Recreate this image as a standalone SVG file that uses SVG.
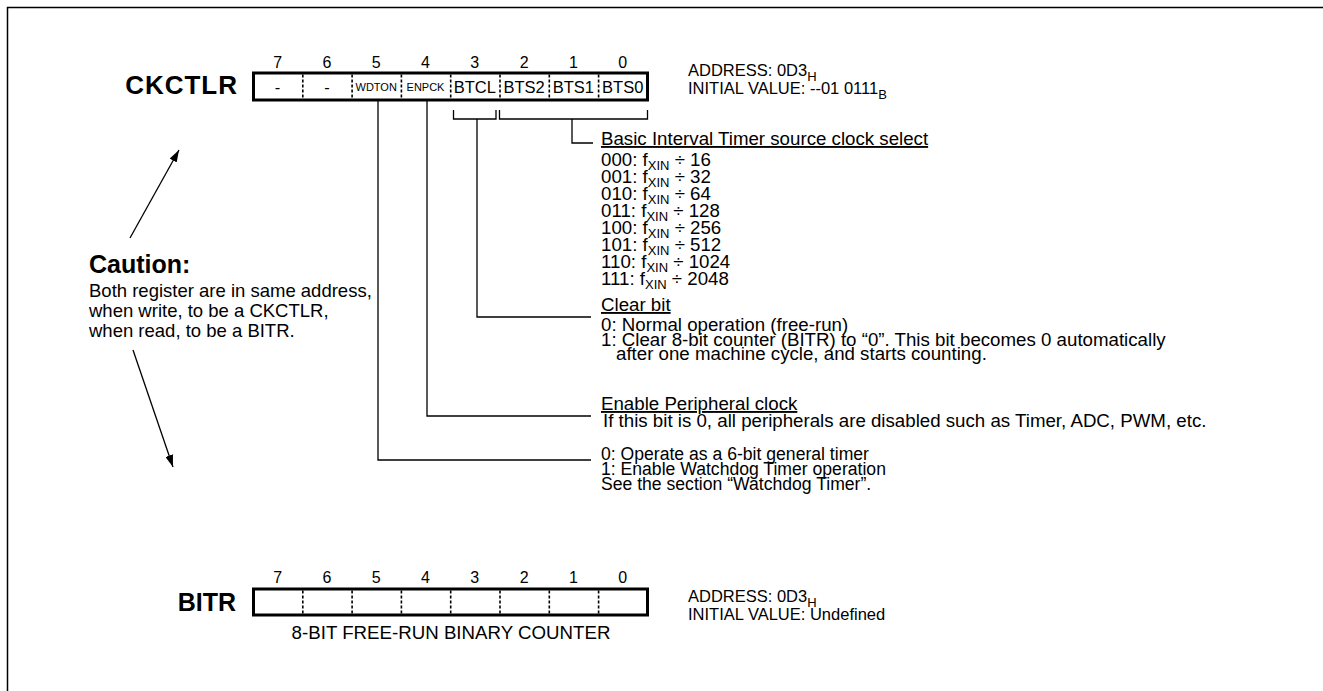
<svg xmlns="http://www.w3.org/2000/svg" width="1323" height="691" viewBox="0 0 1323 691">
<style>
text{font-family:"Liberation Sans",Arial,sans-serif;fill:#000}
.t{font-size:18.7px}
.w{font-size:17.6px}
.k{font-size:18.5px}
.a{font-size:16.5px}
.b{font-size:25px;font-weight:bold}
.n{font-size:16px;text-anchor:middle}
.c{font-size:16.5px;text-anchor:middle}
.s{font-size:11px;text-anchor:middle}
.sub{font-size:13px}
.u{text-decoration:underline}
.box{fill:#fff;stroke:#000;stroke-width:3}
.div{stroke:#000;stroke-width:1.6;stroke-dasharray:3 2;fill:none}
.ln{stroke:#000;stroke-width:1.3;fill:none}
</style>
<defs>
<marker id="ah" viewBox="0 0 12 8" refX="12" refY="4" markerWidth="12" markerHeight="8" markerUnits="userSpaceOnUse" orient="auto">
<path d="M0,0 L12,4 L0,8 Z" fill="#000"/>
</marker>
</defs>
<rect width="1323" height="691" fill="#fff"/>
<path d="M7.5,691 V7.5 H1323" fill="none" stroke="#000" stroke-width="1.5"/>

<g id="ckctlr">
<text class="b" x="238" y="94" text-anchor="end" style="font-size:26px;letter-spacing:1px">CKCTLR</text>
<g>
<text class="n" x="277.6" y="68">7</text><text class="n" x="326.9" y="68">6</text><text class="n" x="376.2" y="68">5</text><text class="n" x="425.5" y="68">4</text><text class="n" x="474.8" y="68">3</text><text class="n" x="524.1" y="68">2</text><text class="n" x="573.4" y="68">1</text><text class="n" x="622.7" y="68">0</text>
</g>
<rect class="box" x="253.5" y="73" width="394" height="27"/>
<path class="div" d="M302.8,74.5V98.5M352.1,74.5V98.5M401.4,74.5V98.5M450.7,74.5V98.5M500,74.5V98.5M549.3,74.5V98.5M598.6,74.5V98.5"/>
<text class="c" x="277.6" y="93">-</text>
<text class="c" x="326.9" y="93">-</text>
<text class="s" x="376.2" y="91">WDTON</text>
<text class="s" x="425.5" y="91">ENPCK</text>
<text class="c" x="474.8" y="93">BTCL</text>
<text class="c" x="524.1" y="93">BTS2</text>
<text class="c" x="573.4" y="93">BTS1</text>
<text class="c" x="622.7" y="93">BTS0</text>
</g>

<g id="ckctlr-address">
<text class="a" x="688" y="76">ADDRESS: 0D3<tspan class="sub" dy="5">H</tspan></text>
<text class="a" x="688" y="94">INITIAL VALUE: --01 0111<tspan class="sub" dy="5">B</tspan></text>
</g>

<g id="bts-desc">
<text class="t u" x="601" y="145">Basic Interval Timer source clock select</text>
<text class="t" x="601" y="166">000: f<tspan class="sub" dy="4">XIN</tspan><tspan dy="-4"> ÷ 16</tspan></text>
<text class="t" x="601" y="183">001: f<tspan class="sub" dy="4">XIN</tspan><tspan dy="-4"> ÷ 32</tspan></text>
<text class="t" x="601" y="200">010: f<tspan class="sub" dy="4">XIN</tspan><tspan dy="-4"> ÷ 64</tspan></text>
<text class="t" x="601" y="217">011: f<tspan class="sub" dy="4">XIN</tspan><tspan dy="-4"> ÷ 128</tspan></text>
<text class="t" x="601" y="234">100: f<tspan class="sub" dy="4">XIN</tspan><tspan dy="-4"> ÷ 256</tspan></text>
<text class="t" x="601" y="251">101: f<tspan class="sub" dy="4">XIN</tspan><tspan dy="-4"> ÷ 512</tspan></text>
<text class="t" x="601" y="268">110: f<tspan class="sub" dy="4">XIN</tspan><tspan dy="-4"> ÷ 1024</tspan></text>
<text class="t" x="601" y="285">111: f<tspan class="sub" dy="4">XIN</tspan><tspan dy="-4"> ÷ 2048</tspan></text>
</g>

<g id="btcl-desc">
<text class="t u" x="601" y="311">Clear bit</text>
<text class="t" x="601" y="331">0: Normal operation (free-run)</text>
<text class="t" x="601" y="346">1: Clear 8-bit counter (BITR) to “0”. This bit becomes 0 automatically</text>
<text class="t" x="616" y="360">after one machine cycle, and starts counting.</text>
</g>

<g id="enpck-desc">
<text class="t u" x="601" y="410">Enable Peripheral clock</text>
<text class="t" x="603" y="427">If this bit is 0, all peripherals are disabled such as Timer, ADC, PWM, etc.</text>
</g>

<g id="wdton-desc">
<text class="w" x="601" y="460">0: Operate as a 6-bit general timer</text>
<text class="w" x="601" y="475">1: Enable Watchdog Timer operation</text>
<text class="w" x="601" y="490">See the section “Watchdog Timer”.</text>
</g>

<g id="caution">
<text class="b" x="89" y="273">Caution:</text>
<text class="k" x="89" y="297">Both register are in same address,</text>
<text class="k" x="89" y="317">when write, to be a CKCTLR,</text>
<text class="k" x="89" y="337">when read, to be a BITR.</text>
</g>

<g id="bitr">
<text class="b" x="236" y="611" text-anchor="end">BITR</text>
<g>
<text class="n" x="277.6" y="583">7</text><text class="n" x="326.9" y="583">6</text><text class="n" x="376.2" y="583">5</text><text class="n" x="425.5" y="583">4</text><text class="n" x="474.8" y="583">3</text><text class="n" x="524.1" y="583">2</text><text class="n" x="573.4" y="583">1</text><text class="n" x="622.7" y="583">0</text>
</g>
<rect class="box" x="253.5" y="589" width="394" height="26"/>
<path class="div" d="M302.8,590.5V613.5M352.1,590.5V613.5M401.4,590.5V613.5M450.7,590.5V613.5M500,590.5V613.5M549.3,590.5V613.5M598.6,590.5V613.5"/>
<text class="t" x="451" y="639" text-anchor="middle">8-BIT FREE-RUN BINARY COUNTER</text>
</g>

<g id="bitr-address">
<text class="a" x="688" y="602">ADDRESS: 0D3<tspan class="sub" dy="5">H</tspan></text>
<text class="a" x="688" y="620">INITIAL VALUE: Undefined</text>
</g>

<g id="connectors">
<path class="ln" d="M453.5,110V119H496V110"/>
<path class="ln" d="M499.5,110V119H647.5V110"/>
<path class="ln" d="M572,119V143H593"/>
<path class="ln" d="M477,119V317H591"/>
<path class="ln" d="M427,100V416H591"/>
<path class="ln" d="M378,100V460H591"/>
<line class="ln" x1="130" y1="238" x2="179" y2="150" marker-end="url(#ah)"/>
<line class="ln" x1="133" y1="350" x2="173" y2="467" marker-end="url(#ah)"/>
</g>
</svg>
